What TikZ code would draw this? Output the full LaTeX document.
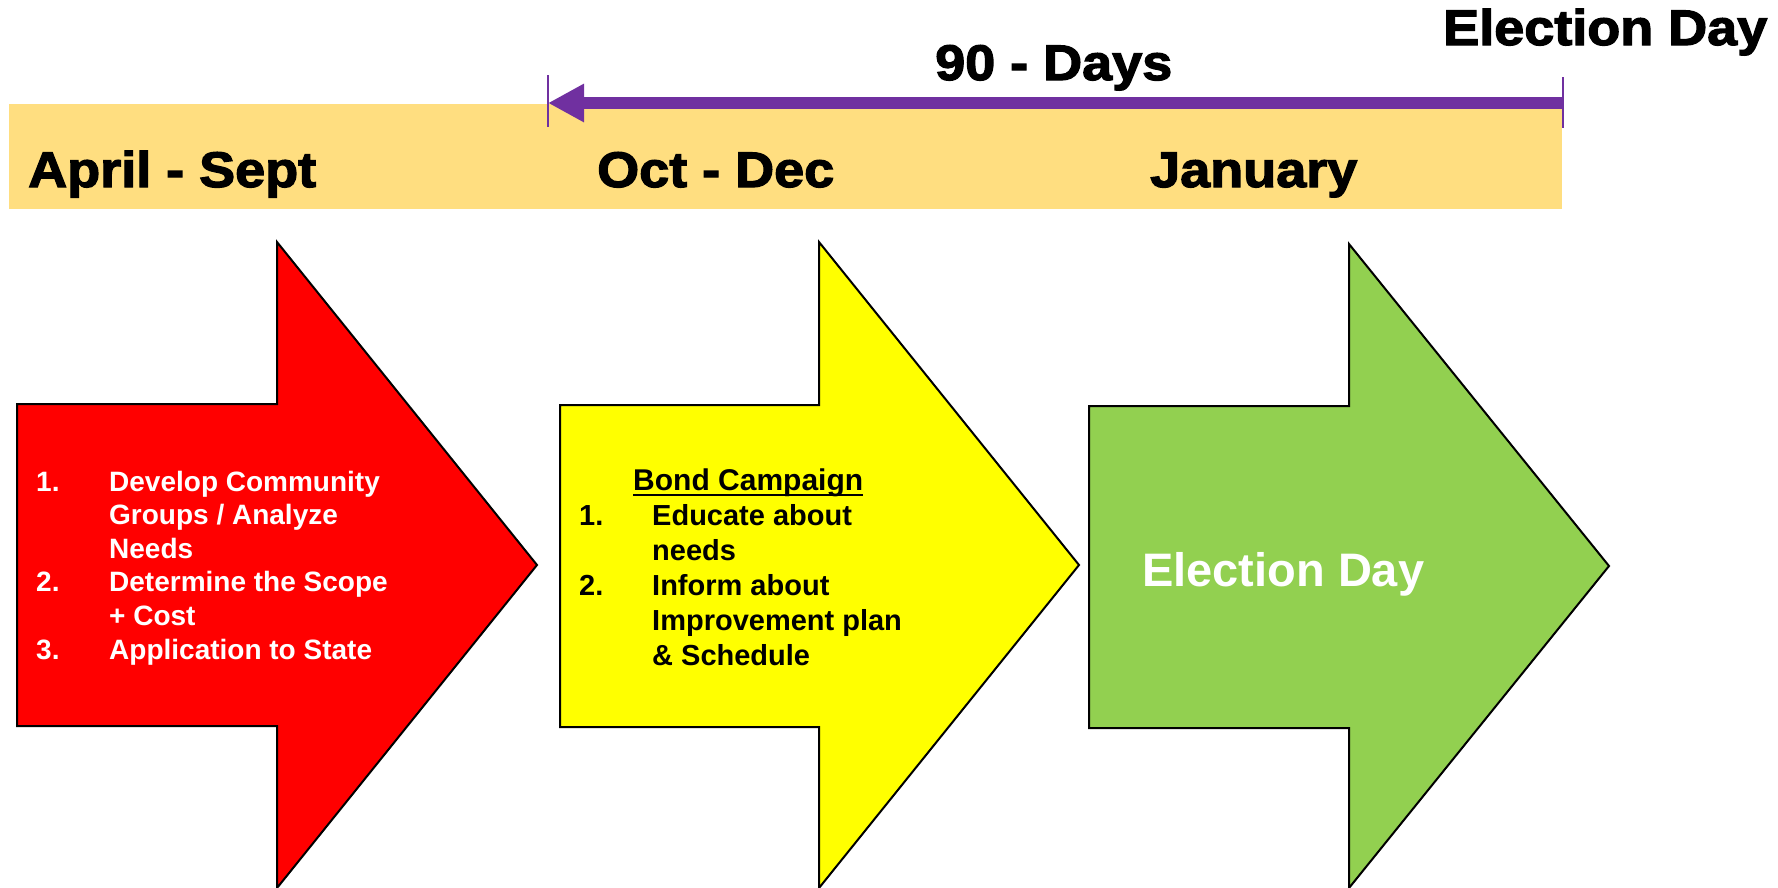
\documentclass[tikz,border=0pt]{standalone}
\usepackage{fontspec}
\setmainfont{Liberation Sans}
\newfontfamily\headfont[FakeStretch=1.08,FakeBold=2.5]{Liberation Sans Bold}
\usetikzlibrary{arrows.meta}
\definecolor{bandyellow}{HTML}{FFDE80}
\definecolor{daypurple}{HTML}{7030A0}
\definecolor{phasegreen}{HTML}{92D050}
\definecolor{phaseyellow}{HTML}{FFFF00}
\tikzset{
  heading/.style={anchor=base west, inner sep=0pt, font=\headfont\fontsize{50}{60}\selectfont},
  phase/.style={draw=black, line width=2pt, line join=miter},
  steps/.style={anchor=base west, inner sep=0pt, align=left},
  tick/.style={daypurple, line width=2pt},
}
\begin{document}
\begin{tikzpicture}[x=1pt,y=-1pt]
    \useasboundingbox (0,0) rectangle (1778,887);
    % timeline band
    \fill[bandyellow] (9,104) rectangle (1562,209);
    \node[heading] (aprsept) at (28,187) {April - Sept};
    \node[heading] (octdec) at (597,187) {Oct - Dec};
    \node[heading] (january) at (1150,187) {January};
    \node[heading] (ninety) at (935,80) {90 - Days};
    \node[heading] (election) at (1443,45) {Election Day};
    % 90 days span
    \coordinate (start90) at (548,103);
    \coordinate (end90) at (1563,103);
    \draw[daypurple, line width=12pt, -{Triangle[length=36pt,width=36pt]}] (end90) -- (start90);
    \draw[tick] ([yshift=28pt]start90) -- ([yshift=-24pt]start90);
    \draw[tick] ([yshift=26pt]end90) -- ([yshift=-25pt]end90);
    % phase arrows
    \draw[phase, fill=red] (17,404) -- (277,404) -- (277,242) -- (537,565) -- (277,888) -- (277,726) -- (17,726) -- cycle;
    \draw[phase, fill=phaseyellow] (560,405) -- (819,405) -- (819,242) -- (1079,565) -- (819,888) -- (819,727) -- (560,727) -- cycle;
    \draw[phase, fill=phasegreen] (1089,406) -- (1349,406) -- (1349,244) -- (1609,566) -- (1349,888) -- (1349,728) -- (1089,728) -- cycle;
    % texts in the arrows
    \node[steps, white, font=\bfseries\fontsize{28}{33.6}\selectfont] (planning) at (36,491)
        {\begin{tabular}[t]{@{}p{73pt}@{}l@{}}
         1. & Develop Community\\
            & Groups / Analyze\\
            & Needs\\
         2. & Determine the Scope\\
            & + Cost\\
         3. & Application to State
         \end{tabular}};
    \node[steps, font=\bfseries\fontsize{30}{35}\selectfont] (bond) at (633,490) {Bond Campaign};
    \draw[line width=2pt] ([yshift=-5pt]bond.base west) -- ([yshift=-5pt]bond.base east);
    \node[steps, font=\bfseries\fontsize{29}{35.2}\selectfont] (campaign) at (579,525)
        {\begin{tabular}[t]{@{}p{73pt}@{}l@{}}
         1. & Educate about\\
            & needs\\
         2. & Inform about\\
            & Improvement plan\\
            & \& Schedule
         \end{tabular}};
    \node[steps, white, font=\bfseries\fontsize{47}{56}\selectfont] (vote) at (1142,586) {Election Day};
\end{tikzpicture}
\end{document}
